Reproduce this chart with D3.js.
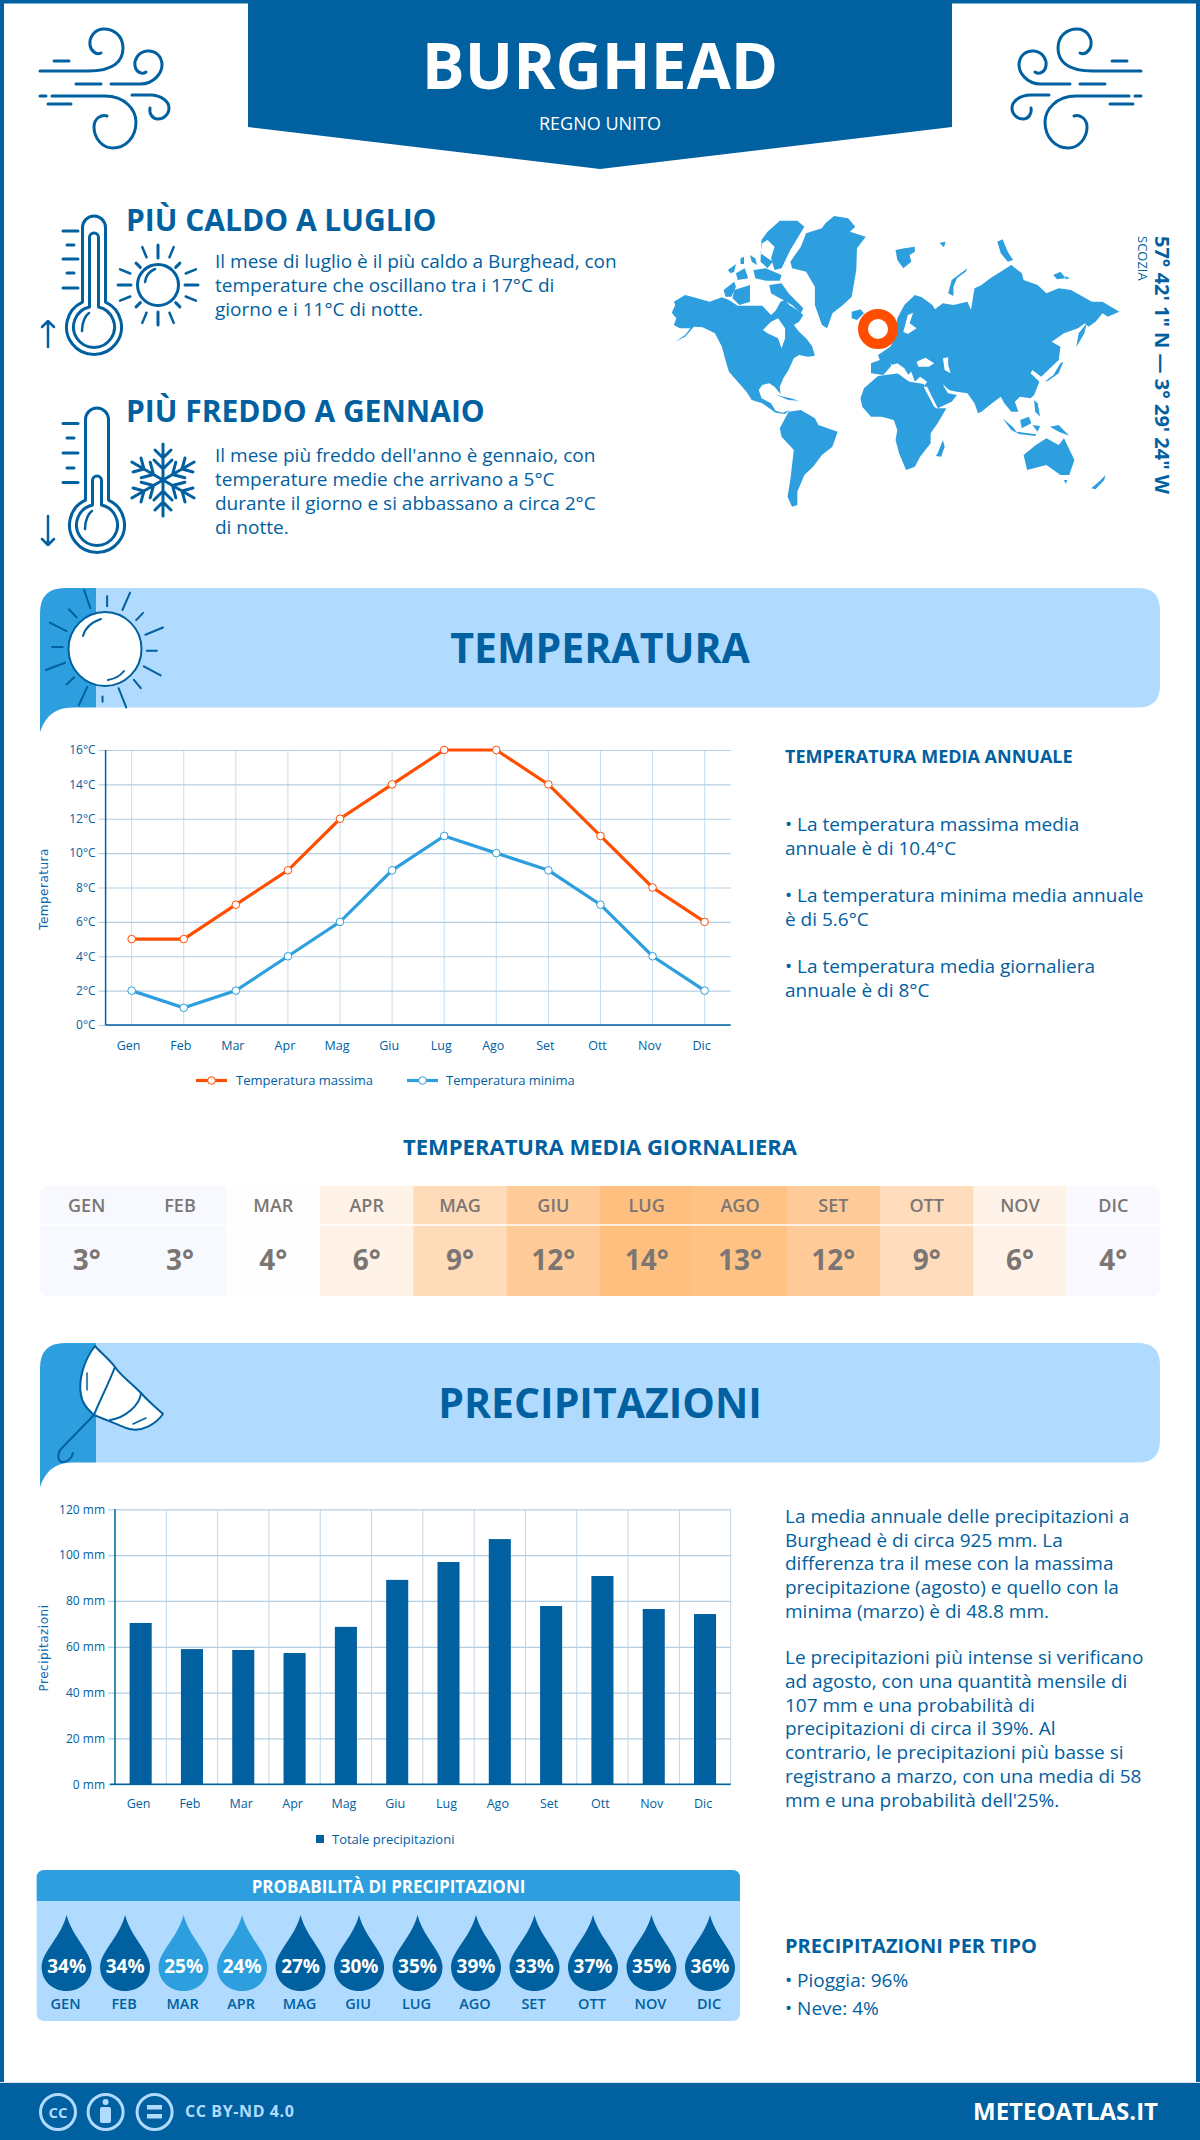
<!DOCTYPE html>
<html><head><meta charset="utf-8">
<script src="https://cdn.jsdelivr.net/npm/d3@7"></script>
<style>html,body{margin:0;padding:0;background:#fff}svg{display:block}text{font-family:"Open Sans",sans-serif}</style>
</head><body><svg id="c" width="1200" height="2140"></svg>
<script>
const DARK="#01609f",MID="#2d9fdf",LIGHT="#b0dbff",ORANGE="#ff4e00",GREY="#7b7674";
const months=["Gen","Feb","Mar","Apr","Mag","Giu","Lug","Ago","Set","Ott","Nov","Dic"];
const tempMax=[5,5,7,9,12,14,16,16,14,11,8,6];
const tempMin=[2,1,2,4,6,9,11,10,9,7,4,2];
const tempTicks=[0,2,4,6,8,10,12,14,16];
const tempDaily=[3,3,4,6,9,12,14,13,12,9,6,4];
const dailyColors=["#f8f9ff","#f8f9ff","#fffeff","#fff2e6","#ffdcb9","#ffcc99","#ffc07f","#ffc285","#ffcc99","#ffdcbb","#fff3e9","#f9f9ff"];
const precip=[70.4,59,58.6,57.3,68.7,89.2,97,107,77.8,90.9,76.5,74.3];
const precipTicks=[0,20,40,60,80,100,120];
const precipProb=[34,34,25,24,27,30,35,39,33,37,35,36];
const hotLines=["Il mese di luglio è il più caldo a Burghead, con","temperature che oscillano tra i 17°C di","giorno e i 11°C di notte."];
const coldLines=["Il mese più freddo dell'anno è gennaio, con","temperature medie che arrivano a 5°C","durante il giorno e si abbassano a circa 2°C","di notte."];
const annualLines=[["• La temperatura massima media","annuale è di 10.4°C"],["• La temperatura minima media annuale","è di 5.6°C"],["• La temperatura media giornaliera","annuale è di 8°C"]];
const precipPara1=["La media annuale delle precipitazioni a","Burghead è di circa 925 mm. La","differenza tra il mese con la massima","precipitazione (agosto) e quello con la","minima (marzo) è di 48.8 mm."];
const precipPara2=["Le precipitazioni più intense si verificano","ad agosto, con una quantità mensile di","107 mm e una probabilità di","precipitazioni di circa il 39%. Al","contrario, le precipitazioni più basse si","registrano a marzo, con una media di 58","mm e una probabilità dell'25%."];
// decorative world map outlines, in a local drawing space
const land=[
[[62,368],[72,345],[68,335],[100,315],[125,322],[170,335],[205,322],[225,330],[250,347],[285,347],[320,347],[345,375],[358,362],[372,335],[385,330],[397,345],[420,360],[437,375],[425,395],[410,405],[425,425],[445,445],[462,468],[470,497],[450,500],[425,495],[410,505],[395,540],[380,565],[370,590],[372,612],[355,590],[340,580],[320,585],[310,600],[318,625],[345,640],[358,662],[378,668],[398,660],[385,672],[358,668],[320,640],[290,630],[275,605],[250,575],[225,545],[215,510],[205,470],[185,430],[150,412],[125,410],[100,440],[72,455],[100,435],[115,415],[85,415],[68,405],[75,385]],
[[340,285],[375,280],[395,310],[437,355],[430,370],[405,345],[370,325],[345,310]],
[[210,300],[240,275],[245,290],[232,320],[215,320]],
[[240,300],[285,285],[285,335],[255,345],[235,325]],
[[335,125],[370,92],[420,92],[440,110],[400,180],[375,235],[355,240],[345,205],[355,170],[335,150],[320,160],[315,190],[350,215],[335,235],[315,215],[318,150]],
[[222,240],[245,222],[240,245],[230,250]],
[[245,250],[270,235],[280,265],[250,270]],
[[295,240],[330,235],[375,255],[370,272],[330,272],[300,265]],
[[285,195],[300,205],[305,225],[290,215]],
[[258,205],[268,200],[268,222],[258,222]],
[[400,215],[430,170],[445,130],[490,115],[500,100],[525,78],[565,85],[585,110],[570,125],[615,140],[590,175],[588,240],[575,320],[550,345],[520,370],[505,415],[490,405],[470,345],[470,290],[445,245],[405,235]],
[[575,365],[600,358],[610,370],[590,390],[575,385]],
[[700,180],[725,175],[755,170],[755,185],[740,195],[745,215],[722,235],[705,210]],
[[825,158],[843,155],[838,172]],
[[850,310],[860,270],[905,235],[900,245],[875,265],[865,290],[865,318]],
[[990,155],[1005,148],[1020,185],[1035,210],[1020,215],[1000,190]],
[[1150,255],[1170,245],[1185,265],[1160,268]],
[[1185,258],[1197,265],[1185,268]],
[[685,470],[700,440],[705,385],[725,345],[755,315],[775,322],[805,345],[812,358],[835,340],[865,345],[905,335],[915,360],[925,295],[945,285],[970,265],[1030,225],[1060,250],[1065,270],[1105,285],[1130,310],[1165,295],[1200,300],[1260,335],[1290,335],[1338,365],[1305,380],[1290,370],[1270,395],[1250,410],[1240,400],[1220,415],[1180,430],[1145,455],[1170,470],[1165,510],[1130,545],[1115,560],[1090,540],[1085,550],[1110,575],[1095,615],[1085,625],[1055,620],[1040,635],[1050,665],[1030,665],[1010,640],[1000,620],[975,640],[945,665],[935,670],[925,640],[905,610],[875,605],[850,600],[835,582],[850,610],[875,615],[860,635],[820,655],[800,615],[780,590],[790,575],[770,560],[755,575],[745,545],[735,555],[745,570],[725,535],[705,520],[690,525],[665,555],[630,550],[630,520],[655,510],[650,495]],
[[600,625],[610,595],[650,558],[710,550],[740,575],[780,582],[815,655],[845,655],[820,700],[800,730],[800,760],[770,800],[755,830],[730,840],[710,790],[700,750],[705,720],[695,690],[660,680],[630,680],[605,650]],
[[820,790],[835,750],[840,770],[830,800],[815,798]],
[[370,715],[395,665],[430,660],[470,685],[480,705],[535,725],[520,770],[490,795],[465,830],[440,855],[420,905],[420,945],[405,950],[392,920],[400,870],[410,780],[375,740]],
[[1065,795],[1100,765],[1130,745],[1165,765],[1180,745],[1210,810],[1195,855],[1170,855],[1130,825],[1075,840]],
[[1180,870],[1190,870],[1185,882]],
[[1258,895],[1285,870],[1298,855],[1295,870],[1270,898]],
[[1125,575],[1150,555],[1170,520],[1178,515],[1165,550],[1135,572]],
[[1215,472],[1222,430],[1245,400],[1238,430]],
[[1005,685],[1035,712],[1047,730],[1030,720]],
[[1055,690],[1080,680],[1087,700],[1060,715]],
[[1045,725],[1100,733],[1100,738],[1050,732]],
[[1090,705],[1112,708],[1105,725]],
[[1140,710],[1165,705],[1195,737],[1165,725]],
[[1095,630],[1105,640],[1112,680],[1098,665]],
[[360,615],[400,625],[425,632],[395,630]],
[[1150,255],[1170,248],[1172,262]]
];
const water=[
[[322,420],[345,395],[365,385],[385,415],[385,445],[375,475],[365,445],[335,430]],
[[760,515],[785,503],[810,520],[795,530],[765,530]],
[[835,505],[850,502],[850,525],[857,550],[840,540]],
[[735,375],[750,368],[740,400],[760,415],[735,432],[722,425]],
[[780,590],[790,590],[820,655],[810,650]],
[[835,585],[860,605],[850,610]],
[[685,520],[745,560],[735,572],[700,545]]
];
const windPaths=["M40,71H88C115,71 123,60 123,48C123,35 113,29 104,29C94,29 89,38 90,45C91,52 97,55 101,53","M54,61H69","M111,84H140C155,84 162,72 162,65C162,56 155,50 147,51C138,52 134,60 135,66C136,72 142,75 146,72","M76,84H101","M40,96H46M52,96H105C125,96 136,110 136,122C136,138 125,148 113,148C102,148 94,138 94,127C94,118 102,114 107,116","M48,104H71","M132,95H150C162,95 169,102 169,108C169,115 163,119 158,119C152,119 149,113 150,108"];
const bannerRays=[[110,55,118,105],[140,72,140,100],[170,62,160,110],[187,118,178,138],[213,158,190,178],[205,222,192,222],[210,290,188,265],[184,325,175,302],[155,325,165,378],[134,348,134,362],[114,322,103,372],[97,295,87,315],[85,255,60,275],[82,212,68,212],[87,168,65,145],[100,130,90,108]];

const svg=d3.select("#c");
function txt(p,x,y,s,o={}){const t=p.append("text").attr("x",x).attr("y",y).text(s)
 .attr("fill",o.fill||DARK).attr("font-size",o.size||20).attr("font-weight",o.weight||400)
 .attr("text-anchor",o.anchor||"start");
 if(o.ls)t.attr("letter-spacing",o.ls); if(o.family)t.style("font-family",o.family); if(o.tf)t.attr("transform",o.tf); return t;}
function lines(arr,x,y,lh,o){arr.forEach((s,i)=>txt(svg,x,y+i*lh,s,o));}
function stroke(p,w,c){return p.attr("fill","none").attr("stroke",c||DARK).attr("stroke-width",w).attr("stroke-linecap","round").attr("stroke-linejoin","round");}

// frame
svg.append("rect").attr("x",2).attr("y",1.5).attr("width",1196).attr("height",2100).attr("fill","none").attr("stroke",DARK).attr("stroke-width",4);
// header
svg.append("path").attr("d","M248,0H952V127L600,169L248,127Z").attr("fill",DARK);
txt(svg,600,89,"BURGHEAD",{fill:"#fff",size:64,weight:700,anchor:"middle"});
txt(svg,600,130,"REGNO UNITO",{fill:"#fff",size:18,anchor:"middle"});
// wind icons
[null,"translate(1181,0) scale(-1,1)"].forEach(tf=>{const g=svg.append("g");if(tf)g.attr("transform",tf);
 windPaths.forEach(d=>stroke(g.append("path").attr("d",d),3));});

// thermometers
function thermo(cx,top,cy,inner,ticksX,ticksY,arrowUp){
 const g=svg.append("g");
 const hw=11.5,r=27.5;
 const ys=cy-Math.sqrt(r*r-hw*hw);
 stroke(g.append("path").attr("d",`M${cx-hw},${ys}V${top+hw}A${hw},${hw} 0 0 1 ${cx+hw},${top+hw}V${ys}A${r},${r} 0 1 1 ${cx-hw},${ys}Z`),3);
 const ri=20.5,hi=4.5,yi=cy-Math.sqrt(ri*ri-hi*hi);
 stroke(g.append("path").attr("d",`M${cx-hi},${yi}V${inner+hi}A${hi},${hi} 0 0 1 ${cx+hi},${inner+hi}V${yi}A${ri},${ri} 0 1 1 ${cx-hi},${yi}Z`),3);
 stroke(g.append("path").attr("d",`M${cx-12},${cy+4}C${cx-12},${cy-6} ${cx-8},${cy-12} ${cx-5},${cy-14}`),2.5);
 ticksY.forEach((y,i)=>stroke(g.append("path").attr("d",`M${ticksX+(i%2?4:0)},${y}H${ticksX+(i%2?11:15)}`),3));
 const a=arrowUp?[321,347]:[545,516],d=arrowUp?1:-1;
 stroke(g.append("path").attr("d",`M48,${a[1]}V${a[0]}M42,${a[0]+6*d}L48,${a[0]}L54,${a[0]+6*d}`),2.5);
}
thermo(94,216,327,233,63,[231,245,259,273,288],true);
thermo(97,408,525,476,63,[423.5,438,453,468,482.5],false);
// small sun
{const g=svg.append("g").attr("transform","translate(158,285)");
 stroke(g.append("circle").attr("r",20.5),3);
 stroke(g.append("path").attr("d","M-13,-3C-12,-10 -8,-14 -3,-16"),2.5);
 d3.range(16).forEach(i=>{const a=i*Math.PI/8,long=i%4==0,mid=i%2==1&&(i%4==1||i%4==3);
  const r0=long?27:(mid?(i%8==1||i%8==7?30:30):25),r1=long?(i%8==0?40:40):(mid?41:31);
  stroke(g.append("line").attr("x1",r0*Math.cos(a)).attr("y1",r0*Math.sin(a)).attr("x2",r1*Math.cos(a)).attr("y2",r1*Math.sin(a)),i%2?2.5:3);});}
// snowflake
{const g=svg.append("g").attr("transform","translate(163,480)");
 d3.range(6).forEach(i=>{const a=g.append("g").attr("transform",`rotate(${i*60})`);
  stroke(a.append("path").attr("d","M0,0V-36M-8,-30L0,-22L8,-30M-9,-20L0,-11L9,-20"),3);});}

txt(svg,126,231,"PIÙ CALDO A LUGLIO",{size:30,weight:700});
lines(hotLines,215,268,24,{size:19});
txt(svg,126,422,"PIÙ FREDDO A GENNAIO",{size:30,weight:700});
lines(coldLines,215,462,24,{size:19});

// map
{const g=svg.append("g").attr("transform","translate(650,190) scale(0.3508,0.3333)");
 const l=d3.line();
 land.forEach(p=>g.append("path").attr("d",l(p)+"Z").attr("fill",MID));
 water.forEach(p=>g.append("path").attr("d",l(p)+"Z").attr("fill","#fff"));
 svg.append("circle").attr("cx",878).attr("cy",329).attr("r",15).attr("fill","#fff").attr("stroke",ORANGE).attr("stroke-width",10);
 txt(svg,0,0,"57° 42' 1\" N — 3° 29' 24\" W",{size:20,weight:700,tf:"translate(1155,236) rotate(90)"});
 txt(svg,0,0,"SCOZIA",{size:13,tf:"translate(1138,236) rotate(90)"});
}

// banners
function banner(y,title,base,size){
 svg.append("path").attr("d",`M96,${y}H1138Q1160,${y} 1160,${y+22}V${y+97.5}Q1160,${y+119.5} 1138,${y+119.5}H96Z`).attr("fill",LIGHT);
 svg.append("path").attr("d",`M40,${y+144}V${y+25}Q40,${y} 65,${y}H96V${y+119.5}H72Q48,${y+119.5} 40,${y+144}Z`).attr("fill",MID);
 txt(svg,600,base,title,{size,weight:700,anchor:"middle"});
}
banner(588,"TEMPERATURA",663,41);
banner(1343,"PRECIPITAZIONI",1418,41);
// banner sun
{const g=svg.append("g");
 stroke(g.append("ellipse").attr("cx",105).attr("cy",649).attr("rx",36.5).attr("ry",37).attr("fill","#fff"),2).attr("fill","#fff");
 bannerRays.forEach(r=>stroke(g.append("line").attr("x1",r[0]/1.307).attr("y1",570+r[1]/2.75).attr("x2",r[2]/1.307).attr("y2",570+r[3]/2.75),2));
 stroke(g.append("path").attr("d","M83,636C85,628 92,622 101,619"),2);
 stroke(g.append("path").attr("d","M108,680C114,679 120,676 124,671"),2);}
// umbrella
{const g=svg.append("g");
 stroke(g.append("path").attr("d","M95,1346C84,1360 78,1380 81,1395C82,1402 88,1410 94,1415C102,1418 130,1430 130,1429C142,1432 156,1424 163,1414C150,1402 147,1400 141,1393C128,1380 120,1375 115,1367C108,1358 100,1352 95,1346Z").attr("fill","#fff"),2).attr("fill","#fff");
 stroke(g.append("path").attr("d","M115,1367C108,1385 100,1400 94,1415M141,1393C140,1405 125,1418 110,1420M94,1415L60,1450C57,1456 58,1462 63,1462C68,1462 72,1458 73,1453"),2);
 stroke(g.append("path").attr("d","M87,1373V1390M133,1424L146,1418"),1.5);}

// charts
const GRID="#b4cfe4",BLUE2="#0a6cb0";
function axes(g,x,y,yFmt,X0,X1,Y0,Y1,lblDx){
 const ya=g.append("g").attr("transform",`translate(${X0},0)`).call(d3.axisLeft(y).tickValues(y.domain()[1]==16?tempTicks:precipTicks).tickFormat(yFmt).tickSize(X0-X1).tickPadding(10));
 ya.select(".domain").attr("stroke",DARK).attr("stroke-width",0);
 ya.selectAll("line").attr("stroke",GRID).attr("stroke-width",1.2).attr("x1",-7);
 ya.selectAll("text").attr("x",-10).attr("fill",DARK).attr("font-size",12);
 ya.selectAll("text").style("font-family",'"Open Sans",sans-serif');
}
// temperature chart
const TX0=105.6,TX1=730.7,TY0=1025,TY1=750;
const tx=d3.scaleBand().domain(months).range([TX0,TX1]);
const ty=d3.scaleLinear().domain([0,16]).range([TY0,TY1]);
const tg=svg.append("g");
{const xa=tg.append("g").attr("transform",`translate(0,${TY0})`).call(d3.axisBottom(tx).tickSize(-(TY0-TY1)).tickPadding(0));
 xa.select(".domain").remove();
 xa.selectAll("line").attr("stroke","#c6dced").attr("stroke-width",1);
 xa.selectAll("text").attr("y",25).attr("dy",0).attr("dx",-3).attr("fill",DARK).attr("font-size",12.5).style("font-family",'"Open Sans",sans-serif');
 axes(tg,tx,ty,d=>d+"°C",TX0,TX1);
 tg.append("line").attr("x1",TX0).attr("x2",TX1).attr("y1",TY0).attr("y2",TY0).attr("stroke",DARK).attr("stroke-width",1.5);
 tg.append("line").attr("x1",TX0).attr("x2",TX0).attr("y1",TY1).attr("y2",TY0).attr("stroke",DARK).attr("stroke-width",1.5);
 const cx=m=>tx(m)+tx.bandwidth()/2;
 [[tempMax,ORANGE],[tempMin,MID]].forEach(([s,c])=>{
  tg.append("path").attr("d",d3.line().x((d,i)=>cx(months[i])).y(d=>ty(d))(s)).attr("fill","none").attr("stroke",c).attr("stroke-width",3.2);
  tg.selectAll(null).data(s).enter().append("circle").attr("cx",(d,i)=>cx(months[i])).attr("cy",d=>ty(d)).attr("r",3.8).attr("fill","#fff").attr("stroke",c).attr("stroke-width",1);
 });
 txt(svg,0,0,"Temperatura",{size:12,fill:BLUE2,anchor:"middle",family:"'DejaVu Sans'",ls:0.5,tf:"translate(48,889) rotate(-90)"});
 [[196,236,"Temperatura massima",ORANGE],[407,446,"Temperatura minima",MID]].forEach(([x,tx2,s,c])=>{
  svg.append("line").attr("x1",x).attr("x2",x+31).attr("y1",1080.5).attr("y2",1080.5).attr("stroke",c).attr("stroke-width",3.2);
  svg.append("circle").attr("cx",x+15.5).attr("cy",1080.5).attr("r",3.8).attr("fill","#fff").attr("stroke",c);
  txt(svg,tx2,1085,s,{size:13});
 });
}
// annual text
txt(svg,785,763,"TEMPERATURA MEDIA ANNUALE",{size:18,weight:700});
annualLines.forEach((a,i)=>lines(a,785,[831,902,973][i],24,{size:19}));

// daily table
txt(svg,600,1155,"TEMPERATURA MEDIA GIORNALIERA",{size:22,weight:700,anchor:"middle"});
{const b=d3.scaleBand().domain(months).range([40,1160]);
 const clip=svg.append("defs").append("clipPath").attr("id","rc").append("rect").attr("x",40).attr("y",1186).attr("width",1120).attr("height",110).attr("rx",7);
 const g=svg.append("g").attr("clip-path","url(#rc)");
 g.selectAll(null).data(months).enter().append("rect").attr("x",d=>b(d)).attr("y",1186).attr("width",b.bandwidth()+0.5).attr("height",110).attr("fill",(d,i)=>dailyColors[i]);
 svg.append("line").attr("x1",40).attr("x2",1160).attr("y1",1225).attr("y2",1225).attr("stroke","#fff").attr("stroke-width",1.5);
 months.forEach((m,i)=>{const c=b(m)+b.bandwidth()/2;
  txt(svg,c,1212,m.toUpperCase(),{size:18,weight:600,fill:GREY,anchor:"middle"});
  txt(svg,c,1270,tempDaily[i]+"°",{size:28,weight:700,fill:GREY,anchor:"middle"});
 });}

// precipitation chart
const PX0=115,PX1=730.7,PY0=1784.3,PY1=1509.3;
const px=d3.scaleBand().domain(months).range([PX0,PX1]).paddingInner(0.57).paddingOuter(0.285);
const pb=d3.scaleBand().domain(months).range([PX0,PX1]);
const py=d3.scaleLinear().domain([0,120]).range([PY0,PY1]);
{const g=svg.append("g");
 g.selectAll(null).data(months.slice(1).concat(["end"])).enter().append("line").attr("x1",(d,i)=>PX0+(i+1)*pb.step()).attr("x2",(d,i)=>PX0+(i+1)*pb.step()).attr("y1",PY1).attr("y2",PY0).attr("stroke","#c0d4e4").attr("stroke-width",1);
 axes(g,px,py,d=>d+" mm",PX0,PX1);
 const xa=g.append("g").attr("transform",`translate(0,${PY0})`).call(d3.axisBottom(pb).tickSize(0).tickPadding(0));
 xa.select(".domain").remove();
 xa.selectAll("text").attr("y",24).attr("dy",0).attr("dx",-2).attr("fill",DARK).attr("font-size",12.5).style("font-family",'"Open Sans",sans-serif');
 g.append("line").attr("x1",PX0).attr("x2",PX0).attr("y1",PY1).attr("y2",PY0).attr("stroke",DARK).attr("stroke-width",1.5);
 g.append("g").selectAll("rect").data(precip).enter().append("rect").attr("x",(d,i)=>px(months[i])).attr("width",px.bandwidth()).attr("y",d=>py(d)).attr("height",d=>PY0-py(d)).attr("fill",DARK);
 g.append("line").attr("x1",PX0-5).attr("x2",PX1).attr("y1",PY0).attr("y2",PY0).attr("stroke",DARK).attr("stroke-width",1.5);
 txt(svg,0,0,"Precipitazioni",{size:12,fill:BLUE2,anchor:"middle",family:"'DejaVu Sans'",ls:0.5,tf:"translate(48,1648) rotate(-90)"});
 svg.append("rect").attr("x",316).attr("y",1835).attr("width",8).attr("height",8).attr("fill",DARK);
 txt(svg,332,1844,"Totale precipitazioni",{size:13});
}
lines(precipPara1,785,1523,23.7,{size:19});
lines(precipPara2,785,1664,23.8,{size:19});

// probability box
svg.append("path").attr("d","M36.7,1878Q36.7,1870 44.7,1870H732Q740,1870 740,1878V2013Q740,2021 732,2021H44.7Q36.7,2021 36.7,2013Z").attr("fill",LIGHT);
svg.append("path").attr("d","M36.7,1901V1878Q36.7,1870 44.7,1870H732Q740,1870 740,1878V1901Z").attr("fill",MID);
txt(svg,388.5,1893,"PROBABILITÀ DI PRECIPITAZIONI",{size:17,weight:700,fill:"#fff",anchor:"middle"});
{const d=d3.scalePoint().domain(months).range([66.6,710]);
 months.forEach((m,i)=>{const c=d(m);
  const g=svg.append("g").attr("transform",`translate(${c},1966)`);
  g.append("path").attr("d","M0,-51C6,-28 25,-14 25,1C25,15 14,25 0,25C-14,25 -25,15 -25,1C-25,-14 -6,-28 0,-51Z").attr("fill",precipProb[i]<=25?MID:DARK);
  txt(g,0,7,precipProb[i]+"%",{size:19,weight:700,fill:"#fff",anchor:"middle"});
  txt(svg,c-1,2009,m.toUpperCase(),{size:14.5,weight:600,anchor:"middle"});
 });}
txt(svg,785,1953,"PRECIPITAZIONI PER TIPO",{size:20,weight:700});
txt(svg,785,1987,"• Pioggia: 96%",{size:19});
txt(svg,785,2015,"• Neve: 4%",{size:19});

// footer
svg.append("rect").attr("x",0).attr("y",2082).attr("width",1200).attr("height",1.5).attr("fill","#dde3e8");
svg.append("rect").attr("x",0).attr("y",2083).attr("width",1200).attr("height",57).attr("fill",DARK);
[58,105.6,154.6].forEach(x=>stroke(svg.append("circle").attr("cx",x).attr("cy",2112).attr("r",17.5),3,LIGHT));
txt(svg,58,2118,"CC",{size:15,weight:700,fill:LIGHT,anchor:"middle"});
svg.append("circle").attr("cx",105.6).attr("cy",2102).attr("r",3).attr("fill",LIGHT);
svg.append("rect").attr("x",100).attr("y",2107).attr("width",11).attr("height",16).attr("rx",2).attr("fill",LIGHT);
svg.append("rect").attr("x",147).attr("y",2105).attr("width",15).attr("height",4.5).attr("fill",LIGHT);
svg.append("rect").attr("x",147).attr("y",2114).attr("width",15).attr("height",4.5).attr("fill",LIGHT);
txt(svg,185,2117,"CC BY-ND 4.0",{size:16,weight:700,fill:LIGHT,ls:0.6});
txt(svg,1158,2120,"METEOATLAS.IT",{size:24,weight:700,fill:"#fff",anchor:"end"});
</script></body></html>
